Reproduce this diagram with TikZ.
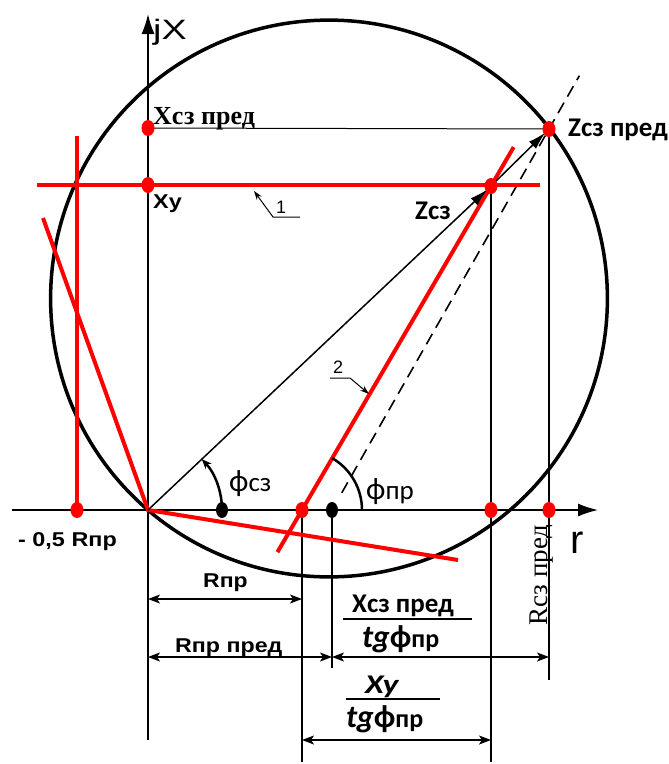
\documentclass[tikz,border=0pt]{standalone}
\usepackage{fontspec}
\usepackage{graphicx}
\setmainfont{Liberation Serif}
\newfontfamily\arialf{Liberation Sans}
\newfontfamily\calibf{Carlito}
\usetikzlibrary{arrows.meta,calc}

% horizontal stretch of a label
\newcommand\hstretch[2]{\scalebox{#1}[1]{#2}}

\tikzset{
    thinline/.style={line width=1.2pt},
    redline/.style={red, line width=4pt},
    axisline/.style={line width=1.6pt, -{Latex[length=20pt,width=13pt]}},
    dimline/.style={line width=1.2pt, {Stealth[length=12pt,width=9pt,inset=3pt]}-{Stealth[length=12pt,width=9pt,inset=3pt]}},
    leader/.style={line width=1pt, -{Stealth[length=9pt,width=6pt]}},
    txt/.style={inner sep=0pt, anchor=base west},
    sansb/.style={txt, font=\arialf\bfseries\fontsize{20}{22}\selectfont},
    calb/.style={txt, font=\calibf\bfseries\fontsize{27}{29}\selectfont},
    calr/.style={txt, font=\calibf\fontsize{31}{33}\selectfont}
}

\begin{document}
\begin{tikzpicture}[x=1pt,y=-1pt]
\useasboundingbox (0,0) rectangle (669,764);

% Points
\coordinate (O) at (148,510);
\coordinate (Xsp) at (148,128);
\coordinate (Xy) at (148,185);
\coordinate (Zsp) at (549,129);
\coordinate (Zc) at (491,186);
\coordinate (Rhalf) at (77,510);
\coordinate (Rpr) at (302,510);
\coordinate (Rprp) at (332,510);
\coordinate (Rcs) at (222,510);
\coordinate (Xyr) at (491,510);
\coordinate (Rsp) at (549,510);

% Circle
\draw[line width=3.5pt] (329,298.5) circle (278.4pt);

% Axes
\draw[axisline] (12,510) -- (598,510);
\draw[axisline] (148,740) -- (148,14);
\node[txt, font=\arialf\fontsize{28}{30}\selectfont] (jx) at (153,39) {\hstretch{1.35}{jX}};
\node[txt, font=\arialf\fontsize{40}{44}\selectfont] (r) at (570,553) {r};

% Projection lines
\draw[thinline, line width=1pt] (Xsp) -- (Zsp);
\draw[thinline] (Zsp) -- (549,680);
\draw[thinline] (Zc) -- (491,762);
\draw[thinline] (Rpr) -- (302,762);
\draw[thinline] (Rprp) -- (332,668);

% Dashed line
\draw[line width=1.6pt, dash pattern=on 12pt off 7pt]
    ($(Rprp)!0.045!(Zsp)$) -- ($(Rprp)!1.14!(Zsp)$);

% Red characteristic
\draw[redline] (37,185) -- (540,185);
\draw[redline] (77,136) -- (Rhalf);
\draw[redline] (43,218) -- (O) -- (458,560);
\draw[redline] ($(Rpr)!-0.13!(Zc)$) -- ($(Rpr)!1.12!(Zc)$);

% Impedance vectors
\draw[line width=1.5pt, -{Latex[length=18pt,width=10pt]}, shorten >=5pt] (O) -- (Zc);
\draw[line width=1.5pt, -{Latex[length=18pt,width=10pt]}, shorten >=5pt] (Zc) -- (Zsp);

% Angles
\draw[line width=2.5pt, -{Stealth[length=10pt,width=8pt]}] (Rcs) arc[start angle=0, end angle=43.4, radius=74pt];
\draw[line width=2.5pt] (362,510) arc[start angle=0, end angle=59.7, radius=60pt];
\node[calr] (phics) at (229,491) {ф\fontsize{27}{29}\selectfont сз};
\node[calr] (phipr) at (366,499) {ф\fontsize{27}{29}\selectfont пр};

% Dots
\foreach \p in {Xsp,Xy,Zsp,Zc,Rhalf,Rpr,Xyr,Rsp}
    \fill[red] (\p) ellipse [x radius=6.5pt, y radius=8pt];
\foreach \p in {Rcs,Rprp}
    \fill (\p) ellipse [x radius=6pt, y radius=8pt];

% Leaders
\draw[leader] (300,217) -- (273,217) -- (254,191);
\node[txt, font=\arialf\fontsize{18}{20}\selectfont] (one) at (276,213) {1};
\draw[leader] (330,378) -- (350,378) -- (369,394);
\node[txt, font=\arialf\fontsize{18}{20}\selectfont] (two) at (333,373) {2};

% Labels
\node[txt, font=\bfseries\fontsize{26}{28}\selectfont] (lXsp) at (153,124) {Xсз пред};
\node[sansb] (lXy) at (153,208) {\hstretch{1.17}{Xy}};
\node[calb] (lZsp) at (568,136) {Zсз пред};
\node[calb] (lZc) at (415,219) {Zсз};
\node[sansb] (lRhalf) at (18,546) {\hstretch{1.17}{- 0,5 Rпр}};
\node[txt, rotate=90, font=\fontsize{27}{29}\selectfont] (lRsp) at (547,626) {Rсз пред};

% Dimensions
\draw[dimline] (148,599) -- (302,599);
\node[sansb] (lRpr) at (203,587) {\hstretch{1.15}{Rпр}};
\draw[dimline] (148,657) -- (332,657);
\node[sansb] (lRprp) at (175,652) {\hstretch{1.16}{Rпр пред}};
\draw[dimline] (332,657) -- (549,657);
\node[calb] (f1n) at (352,612) {Xсз пред};
\draw[line width=1.6pt] (343,619) -- (472,619);
\node[calb] (f1d) at (362,647) {\fontsize{32}{34}\selectfont\itshape tg\upshape ф\fontsize{26}{28}\selectfont пр};
\draw[dimline] (302,740) -- (491,740);
\node[calb] (f2n) at (365,693) {\hstretch{1.25}{\itshape Xy}};
\draw[line width=1.6pt] (346,699) -- (440,699);
\node[calb] (f2d) at (346,727) {\fontsize{32}{34}\selectfont\itshape tg\upshape ф\fontsize{26}{28}\selectfont пр};

\end{tikzpicture}
\end{document}
